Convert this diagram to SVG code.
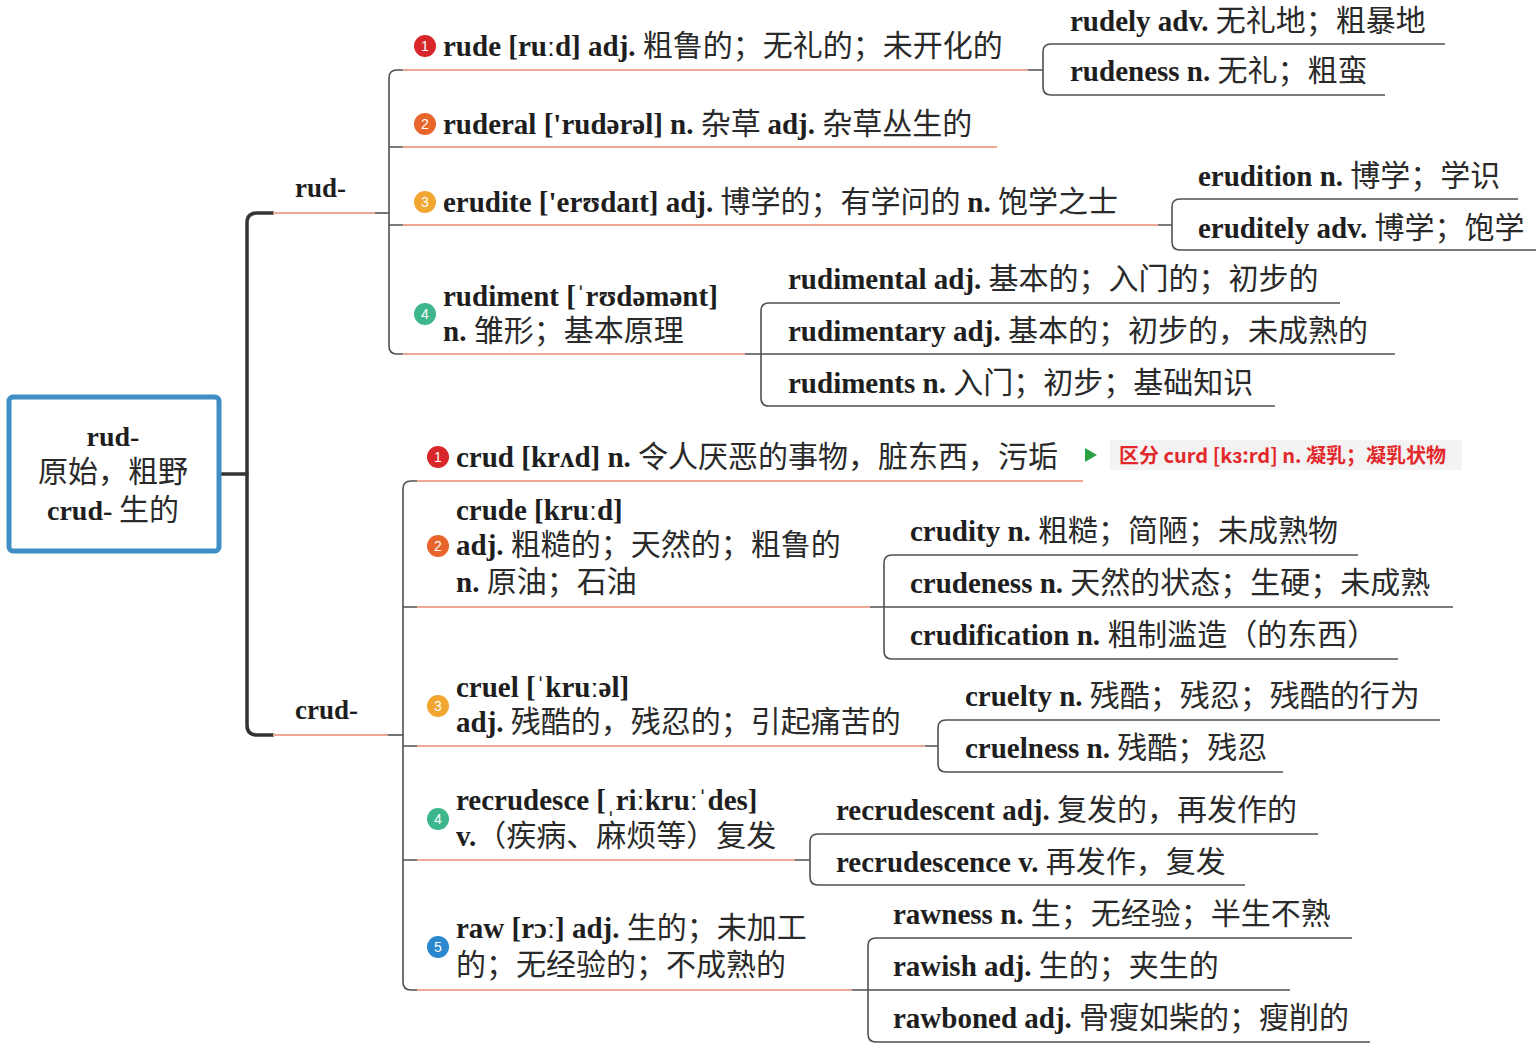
<svg xmlns="http://www.w3.org/2000/svg" width="1536" height="1050" viewBox="0 0 1536 1050">
<style>
text{font-family:"Liberation Serif","Noto Sans CJK SC",serif;font-size:29px;fill:#1e1e1e}
.b{font-weight:bold}
.z{font-family:"Noto Sans CJK SC",sans-serif;font-weight:normal;font-size:30px;fill:#2a2a2a}
.lbl{font-weight:bold;font-size:27px}
.num{font-family:"Liberation Sans",sans-serif;font-size:14px;fill:#fff;text-anchor:middle}
.root{text-anchor:middle;font-size:28px}
.note{font-family:"Noto Sans CJK SC",sans-serif;font-weight:bold;font-size:20px;fill:#e3282b}
.dk{fill:none;stroke:#333;stroke-width:3.5;stroke-linecap:round}
.br{fill:none;stroke:#505050;stroke-width:1.6}
.ul{fill:none;stroke:#eda893;stroke-width:2}
</style>
<rect width="1536" height="1050" fill="#fff"/>

<g id="connectors">
  <path class="dk" d="M221,474 H247" stroke-width="4"/>
  <path class="dk" d="M273,213 H257 Q247,213 247,223 V725 Q247,735 257,735 H273"/>
  <path class="ul" d="M273,213 H375"/>
  <path class="br" d="M375,213 H389"/>
  <path class="ul" d="M273,735 H388"/>
  <path class="br" d="M388,735 H403"/>
  <path class="br" d="M403,70 H397 Q389,70 389,78 V346 Q389,354 397,354 H403 M389,147 H403 M389,225 H403"/>
  <path class="ul" d="M403,70 H1028 M403,147 H997 M403,225 H1158 M403,354 H745"/>
  <path class="br" d="M1028,70 H1043 M1445,44 H1051 Q1043,44 1043,52 V87 Q1043,95 1051,95 H1385"/>
  <path class="br" d="M1158,225 H1172 M1518,199 H1180 Q1172,199 1172,207 V242 Q1172,250 1180,250 H1536"/>
  <path class="br" d="M745,354 H1395 M1340,303 H769 Q761,303 761,311 V398 Q761,406 769,406 H1275"/>
  <path class="br" d="M417,481 H411 Q403,481 403,489 V982 Q403,990 411,990 H417 M403,607 H417 M403,746 H417 M403,860 H417"/>
  <path class="ul" d="M417,481 H1083 M417,607 H870 M417,746 H925 M417,860 H795 M417,990 H852"/>
  <path class="br" d="M870,607 H1453 M1358,555 H892 Q884,555 884,563 V651 Q884,659 892,659 H1398"/>
  <path class="br" d="M925,746 H938 M1440,720 H946 Q938,720 938,728 V764 Q938,772 946,772 H1283"/>
  <path class="br" d="M795,860 H810 M1318,834 H818 Q810,834 810,842 V877 Q810,885 818,885 H1245"/>
  <path class="br" d="M852,990 H1290 M1352,938 H876 Q868,938 868,946 V1034 Q868,1042 876,1042 H1370"/>
</g>

<g id="root">
  <rect x="9" y="397" width="210" height="154" rx="4" fill="#fff" stroke="#3f8fc6" stroke-width="5"/>
  <text class="root"><tspan class="b" x="113" y="446">rud-</tspan><tspan class="z" x="113" y="482">原始，粗野</tspan><tspan class="b" x="113" y="520">crud-</tspan><tspan class="z"> 生的</tspan></text>
</g>

<g id="rud">
  <text class="lbl" x="295" y="197">rud-</text>
</g>
<g id="crud">
  <text class="lbl" x="295" y="719">crud-</text>
</g>

<g id="rude">
  <circle cx="425" cy="46" r="11" fill="#d9262a"/><text class="num" x="425" y="51">1</text>
  <text x="443" y="56"><tspan class="b">rude [ruːd] adj. </tspan><tspan class="z">粗鲁的；无礼的；未开化的</tspan></text>
</g>
<g id="rudely"><text x="1070" y="31"><tspan class="b">rudely adv. </tspan><tspan class="z">无礼地；粗暴地</tspan></text></g>
<g id="rudeness"><text x="1070" y="81"><tspan class="b">rudeness n. </tspan><tspan class="z">无礼；粗蛮</tspan></text></g>

<g id="ruderal">
  <circle cx="425" cy="124" r="11" fill="#e8662b"/><text class="num" x="425" y="129">2</text>
  <text x="443" y="134"><tspan class="b">ruderal ['rudərəl] n. </tspan><tspan class="z">杂草 </tspan><tspan class="b">adj. </tspan><tspan class="z">杂草丛生的</tspan></text>
</g>

<g id="erudite">
  <circle cx="425" cy="202" r="11" fill="#f1a631"/><text class="num" x="425" y="207">3</text>
  <text x="443" y="212"><tspan class="b">erudite ['erʊdaɪt] adj. </tspan><tspan class="z">博学的；有学问的 </tspan><tspan class="b">n. </tspan><tspan class="z">饱学之士</tspan></text>
</g>
<g id="erudition"><text x="1198" y="186"><tspan class="b">erudition n. </tspan><tspan class="z">博学；学识</tspan></text></g>
<g id="eruditely"><text x="1198" y="238"><tspan class="b">eruditely adv. </tspan><tspan class="z">博学；饱学</tspan></text></g>

<g id="rudiment">
  <circle cx="425" cy="314" r="11" fill="#3db68c"/><text class="num" x="425" y="319">4</text>
  <text><tspan class="b" x="443" y="306">rudiment [ˈrʊdəmənt]</tspan><tspan class="b" x="443" y="341">n. </tspan><tspan class="z">雏形；基本原理</tspan></text>
</g>
<g id="rudimental"><text x="788" y="289"><tspan class="b">rudimental adj. </tspan><tspan class="z">基本的；入门的；初步的</tspan></text></g>
<g id="rudimentary"><text x="788" y="341"><tspan class="b">rudimentary adj. </tspan><tspan class="z">基本的；初步的，未成熟的</tspan></text></g>
<g id="rudiments"><text x="788" y="393"><tspan class="b">rudiments n. </tspan><tspan class="z">入门；初步；基础知识</tspan></text></g>

<g id="crud-word">
  <circle cx="438" cy="457" r="11" fill="#d9262a"/><text class="num" x="438" y="462">1</text>
  <text x="456" y="467"><tspan class="b">crud [krʌd] n. </tspan><tspan class="z">令人厌恶的事物，脏东西，污垢</tspan></text>
</g>
<g id="note">
  <path d="M1085,448 L1097,455 L1085,462 Z" fill="#2ba043"/>
  <rect x="1110" y="440" width="352" height="30" fill="#f3f3f3"/>
  <text class="note" x="1119" y="463">区分 curd [kɜ:rd] n. 凝乳；凝乳状物</text>
</g>

<g id="crude">
  <circle cx="438" cy="546" r="11" fill="#e8662b"/><text class="num" x="438" y="551">2</text>
  <text><tspan class="b" x="456" y="520">crude [kruːd]</tspan><tspan class="b" x="456" y="555">adj. </tspan><tspan class="z">粗糙的；天然的；粗鲁的</tspan><tspan class="b" x="456" y="592">n. </tspan><tspan class="z">原油；石油</tspan></text>
</g>
<g id="crudity"><text x="910" y="541"><tspan class="b">crudity n. </tspan><tspan class="z">粗糙；简陋；未成熟物</tspan></text></g>
<g id="crudeness"><text x="910" y="593"><tspan class="b">crudeness n. </tspan><tspan class="z">天然的状态；生硬；未成熟</tspan></text></g>
<g id="crudification"><text x="910" y="645"><tspan class="b">crudification n. </tspan><tspan class="z">粗制滥造（的东西）</tspan></text></g>

<g id="cruel">
  <circle cx="438" cy="706" r="11" fill="#f1a631"/><text class="num" x="438" y="711">3</text>
  <text><tspan class="b" x="456" y="697">cruel [ˈkruːəl]</tspan><tspan class="b" x="456" y="732">adj. </tspan><tspan class="z">残酷的，残忍的；引起痛苦的</tspan></text>
</g>
<g id="cruelty"><text x="965" y="706"><tspan class="b">cruelty n. </tspan><tspan class="z">残酷；残忍；残酷的行为</tspan></text></g>
<g id="cruelness"><text x="965" y="758"><tspan class="b">cruelness n. </tspan><tspan class="z">残酷；残忍</tspan></text></g>

<g id="recrudesce">
  <circle cx="438" cy="819" r="11" fill="#3db68c"/><text class="num" x="438" y="824">4</text>
  <text><tspan class="b" x="456" y="810">recrudesce [ˌriːkruːˈdes]</tspan><tspan class="b" x="456" y="846">v.</tspan><tspan class="z">（疾病、麻烦等）复发</tspan></text>
</g>
<g id="recrudescent"><text x="836" y="820"><tspan class="b">recrudescent adj. </tspan><tspan class="z">复发的，再发作的</tspan></text></g>
<g id="recrudescence"><text x="836" y="872"><tspan class="b">recrudescence v. </tspan><tspan class="z">再发作，复发</tspan></text></g>

<g id="raw">
  <circle cx="438" cy="947" r="11" fill="#2b88cf"/><text class="num" x="438" y="952">5</text>
  <text><tspan class="b" x="456" y="938">raw [rɔː] adj. </tspan><tspan class="z">生的；未加工</tspan><tspan class="z" x="456" y="975">的；无经验的；不成熟的</tspan></text>
</g>
<g id="rawness"><text x="893" y="924"><tspan class="b">rawness n. </tspan><tspan class="z">生；无经验；半生不熟</tspan></text></g>
<g id="rawish"><text x="893" y="976"><tspan class="b">rawish adj. </tspan><tspan class="z">生的；夹生的</tspan></text></g>
<g id="rawboned"><text x="893" y="1028"><tspan class="b">rawboned adj. </tspan><tspan class="z">骨瘦如柴的；瘦削的</tspan></text></g>
</svg>
